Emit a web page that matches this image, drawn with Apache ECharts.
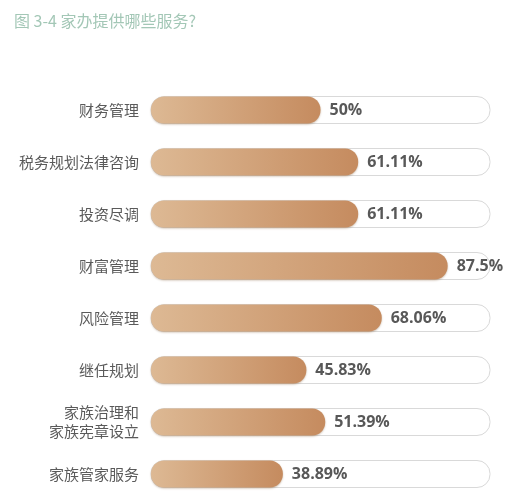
<!DOCTYPE html>
<html lang="zh">
<head>
  <meta charset="UTF-8">
  <script src="https://cdn.jsdelivr.net/npm/echarts@6/dist/echarts.min.js"></script>
  <title>家办提供哪些服务</title>
</head>
<body style="margin:0">
  <div id="chart" style="width: 516px; height: 500px"></div>
  <script>
    const categories = ['财务管理', '税务规划法律咨询', '投资尽调', '财富管理', '风险管理', '继任规划', '家族治理和\n家族宪章设立', '家族管家服务'];
    const values = [50, 61.11, 61.11, 87.5, 68.06, 45.83, 51.39, 38.89];

    const chart = echarts.init(document.getElementById('chart'));
    chart.setOption({
      backgroundColor: '#fff',
      title: {
        text: '图 3-4 家办提供哪些服务?',
        left: 9,
        top: 8,
        textStyle: {
          fontFamily: 'Noto Sans CJK SC',
          fontSize: 16,
          fontWeight: 'normal',
          color: '#a3c7b6'
        }
      },
      grid: {
        left: 151,
        right: 26,
        top: 84,
        bottom: 0
      },
      xAxis: {
        type: 'value',
        min: 0,
        max: 100,
        show: false
      },
      yAxis: {
        type: 'category',
        inverse: true,
        data: categories,
        axisLine: { show: false },
        axisTick: { show: false },
        axisLabel: {
          margin: 12,
          color: '#5a5a5a',
          fontSize: 15,
          lineHeight: 19,
          fontFamily: 'Noto Sans CJK SC'
        }
      },
      series: [{
        type: 'bar',
        data: values,
        barWidth: 27,
        showBackground: true,
        backgroundStyle: {
          color: '#fff',
          borderColor: '#d9d9d9',
          borderWidth: 1,
          borderRadius: 13
        },
        itemStyle: {
          borderRadius: 13,
          shadowColor: 'rgba(120,80,40,0.35)',
          shadowBlur: 2,
          shadowOffsetY: 1,
          color: new echarts.graphic.LinearGradient(0, 0, 1, 0, [
            { offset: 0, color: '#ddb994' },
            { offset: 1, color: '#c58b5f' }
          ])
        },
        label: {
          show: true,
          position: 'right',
          distance: 9,
          formatter: '{c}%',
          color: '#585858',
          fontSize: 16,
          fontWeight: 'bold',
          fontFamily: 'Open Sans'
        }
      }]
    });
  </script>
</body>
</html>
